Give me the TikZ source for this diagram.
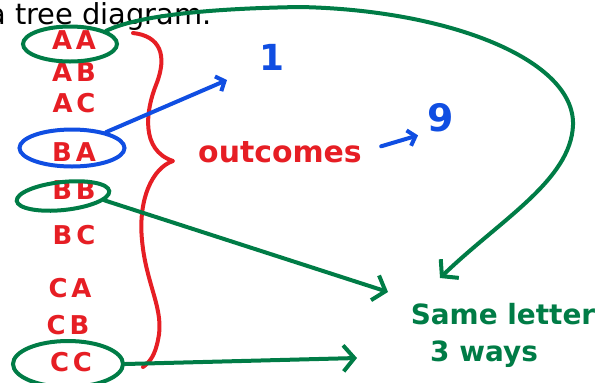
\documentclass[tikz,border=0pt]{standalone}
\usepackage{fontspec}
\setmainfont{DejaVu Sans}
\newfontfamily\letterfont[LetterSpace=15]{DejaVu Sans}
\newfontfamily\handfont{DejaVu Sans}
\usepackage{tikz}
\usetikzlibrary{positioning,arrows.meta,shapes.geometric}
\definecolor{inkred}{RGB}{230,30,36}
\definecolor{inkblue}{RGB}{16,78,226}
\definecolor{inkgreen}{RGB}{0,124,70}

\begin{document}
\begin{tikzpicture}[
  x=1bp, y=-1bp,
  node distance=32bp, on grid,
  lab/.style={text=inkred, font=\letterfont\bfseries\fontsize{26}{26}\selectfont, inner sep=0pt},
  hand/.style={font=\handfont\bfseries\fontsize{#1}{#1}\selectfont, inner sep=0pt},
  ring/.style={draw, ellipse, line width=4bp, inner sep=0pt},
  pen/.style={line width=4bp, line cap=round, line join=round},
  barb/.style={-{Straight Barb[length=11bp,width=26bp]}}
]
  \useasboundingbox (0,0) rectangle (605,382);

  \node[anchor=base east, inner sep=0pt, font=\fontsize{29}{29}\selectfont] (title) at (212,24) {a tree diagram.};

  % the nine outcomes
  \node[lab] (aa) at (74,40) {AA};
  \node[lab, below=of aa] (ab) {AB};
  \node[lab, below=31bp of ab] (ac) {AC};
  \node[lab, below=49bp of ac] (ba) {BA};
  \node[lab, below=38bp of ba] (bb) {BB};
  \node[lab, below=45bp of bb] (bc) {BC};
  \node[lab, below left=53bp and 4bp of bc] (ca) {CA};
  \node[lab, below left=37bp and 2bp of ca] (cb) {CB};
  \node[lab, below right=37bp and 3bp of cb] (cc) {CC};

  \node[ring, draw=inkgreen, minimum width=94bp, minimum height=35bp] (aaring) at ([shift={(-4,4)}]aa.center) {};
  \node[ring, draw=inkblue, minimum width=105bp, minimum height=37bp] (baring) at ([shift={(-2,-4)}]ba.center) {};
  \node[ring, draw=inkgreen, minimum width=93bp, minimum height=28bp, rotate=6] (bbring) at ([shift={(-11,6)}]bb.center) {};
  \node[ring, draw=inkgreen, minimum width=110bp, minimum height=46bp] (ccring) at ([shift={(-3,2)}]cc.center) {};

  % brace
  \draw[pen, draw=inkred] (133,33) .. controls (160,36) and (168,55) .. (156,85)
    .. controls (146,110) and (140,150) .. (173,161)
    .. controls (152,168) and (138,200) .. (142,240)
    .. controls (146,285) and (165,310) .. (158,340)
    .. controls (155,355) and (150,362) .. (143,367);

  \node[hand=30, text=inkred] (outcomes) at (280,152) {outcomes};
  \node[hand=36, text=inkblue] (one) at (272,57) {1};
  \node[hand=38, text=inkblue] (nine) at (441,118) {9};
  \node[hand=28, text=inkgreen] (same) at (503,314) {Same letter};
  \node[hand=28, text=inkgreen] (ways) at (484,354) {3 ways};

  \coordinate (onetip) at (227,80);
  \coordinate (aatip) at (440,278);
  \coordinate (bbtip) at (388,292);
  \coordinate (cctip) at (357,358);

  \draw[pen, draw=inkblue, -{Straight Barb[length=7bp,width=16bp]}] (baring.25) -- (onetip);
  \draw[pen, draw=inkblue, -{Straight Barb[length=7bp,width=16bp]}, shorten <=20bp, shorten >=10bp] (outcomes.east) -- (nine.south west);

  \draw[pen, draw=inkgreen, barb] (aaring.20) .. controls (145,12) and (240,8) .. (300,7)
    .. controls (450,10) and (575,60) .. (573,125)
    .. controls (571,180) and (500,220) .. (aatip);
  \draw[pen, draw=inkgreen, barb] (bbring.-12) -- (bbtip);
  \draw[pen, draw=inkgreen, barb] (ccring.east) -- (cctip);
\end{tikzpicture}
\end{document}
